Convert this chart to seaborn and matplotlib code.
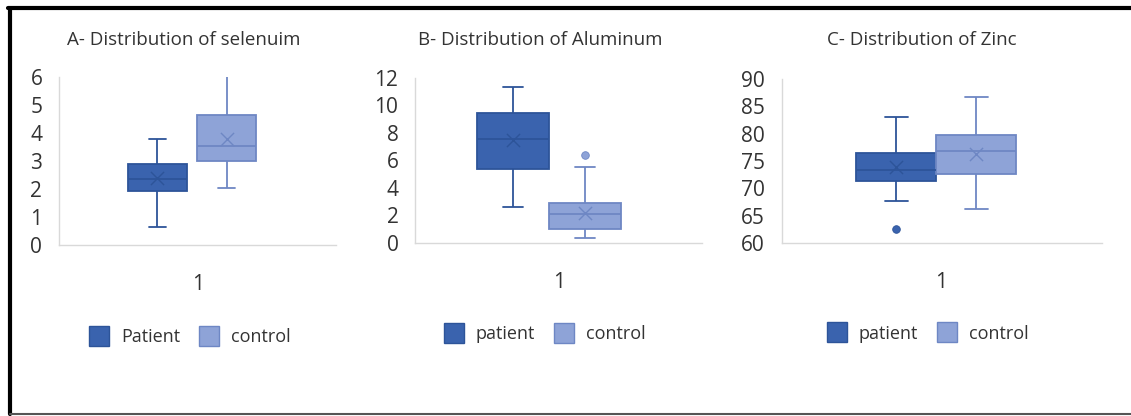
import numpy as np
import pandas as pd
import seaborn as sns
import matplotlib.pyplot as plt
from matplotlib.lines import Line2D

sns.set_style("white")
plt.rcParams['font.family'] = ['Open Sans', 'DejaVu Sans']

# five-number summaries: low whisker, Q1, median, Q3, high whisker
sel_patient = [0.66, 1.93, 2.36, 2.89, 3.80]
sel_control = [2.03, 3.00, 3.54, 4.64, 6.10]
alu_patient = [2.62, 5.38, 7.55, 9.45, 11.30]
alu_control = [0.35, 1.00, 2.10, 2.90, 5.50]
zn_patient = [67.7, 71.3, 73.3, 76.4, 83.0]
zn_control = [66.2, 72.6, 76.8, 79.7, 86.7]

# means (the X marks) and outliers
sel_means = [2.40, 3.80]
alu_means = [7.50, 2.20]
zn_means = [73.9, 76.2]
alu_outliers = [[], [6.4]]
zn_outliers = [[62.6], []]

titles = ["A- Distribution of selenuim", "B- Distribution of Aluminum", "C- Distribution of Zinc"]
groups = [["Patient", "control"], ["patient", "control"], ["patient", "control"]]
yticks = [np.arange(0, 7, 1), np.arange(0, 13, 2), np.arange(60, 91, 5)]

fills = ["#3A63AE", "#8EA3D7"]
edges = ["#2D5499", "#6E87C4"]
text_col = "#333333"

panels = [
    (sel_patient, sel_control, sel_means, [[], []], 0.15),
    (alu_patient, alu_control, alu_means, alu_outliers, 0.0),
    (zn_patient, zn_control, zn_means, zn_outliers, 0.0),
]

fig = plt.figure(figsize=(11.31, 4.16), dpi=100)
axes_pos = [
    [0.0522, 0.411, 0.245, 0.404],
    [0.367, 0.416, 0.254, 0.397],
    [0.691, 0.416, 0.283, 0.394],
]
# boxes and legends sit a little left of centre in the original
box_shift = [0.02, 0.033, 0.016]
legend_x = [0.47, 0.45, 0.455]
title_x = [184 / 1131, 540 / 1131, 922 / 1131]

for i, (pat, con, means, outl, gap) in enumerate(panels):
    ax = fig.add_axes(axes_pos[i])
    names = groups[i]
    df = pd.DataFrame({
        "x": ["1"] * 10,
        "group": [names[0]] * 5 + [names[1]] * 5,
        "value": pat + con,
    })
    sns.boxplot(data=df, x="x", y="value", hue="group", hue_order=names,
                palette=dict(zip(names, fills)), saturation=1,
                linewidth=1.3, width=0.5, gap=gap, whis=(0, 100),
                fliersize=0, legend=False, ax=ax)

    # recolour each box's outline and lines, find box centres
    centres, bw = [], 0
    for k, box in enumerate(ax.patches[:2]):
        box.set_edgecolor(edges[k])
        v = box.get_path().vertices
        centres.append((v[:, 0].min() + v[:, 0].max()) / 2)
        bw = v[:, 0].max() - v[:, 0].min()
    for ln in ax.lines:
        x, y = ln.get_data()
        if len(x) == 0:
            continue
        k = 0 if np.mean(x) < 0 else 1
        ln.set_color(edges[k])
        if len(x) == 2 and y[0] == y[1] and (x[1] - x[0]) < 0.95 * bw:
            half = 0.14 * bw
            ln.set_xdata([centres[k] - half, centres[k] + half])

    for k in range(2):
        ax.scatter([centres[k]], [means[k]], marker="x", s=90, color=edges[k],
                   linewidths=1.0, zorder=5)
        if outl[k]:
            ax.scatter([centres[k]] * len(outl[k]), outl[k], marker="o", s=30,
                       color=fills[k], edgecolor=edges[k], linewidths=0.6, zorder=5)

    sh = box_shift[i]
    ax.set_xlim(-0.5 + sh, 0.5 + sh)
    ax.set_xticks([sh], ["1"])
    ax.set_ylim(yticks[i][0], yticks[i][-1])
    ax.set_yticks(yticks[i])
    ax.set_xlabel("")
    ax.set_ylabel("")
    ax.tick_params(axis="y", length=0, pad=12, labelsize=15, labelcolor=text_col)
    ax.tick_params(axis="x", length=0, pad=21, labelsize=15, labelcolor=text_col)
    for s in ["top", "right"]:
        ax.spines[s].set_visible(False)
    for s in ["left", "bottom"]:
        ax.spines[s].set_color("#D9D9D9")
        ax.spines[s].set_linewidth(1.0)

    fig.text(title_x[i], 1 - 40 / 416, titles[i], ha="center", va="center",
             fontsize=13.5, color=text_col)

    handles = [Line2D([], [], marker="s", linestyle="none", markersize=15,
                      markerfacecolor=fills[k], markeredgecolor=edges[k],
                      markeredgewidth=1.0) for k in range(2)]
    ax.legend(handles, names, loc="upper center", bbox_to_anchor=(legend_x[i], -0.40),
              ncol=2, frameon=False, fontsize=13, handlelength=1.2,
              handletextpad=0.6, columnspacing=1.0, labelcolor=text_col)

# outer frame lines of the original screenshot
fig.add_artist(Line2D([8 / 1131, 1], [1 - 8 / 416] * 2, color="black", lw=3))
fig.add_artist(Line2D([10 / 1131] * 2, [1 - 8 / 416, 2 / 416], color="black", lw=3))
fig.add_artist(Line2D([10 / 1131, 1], [2 / 416] * 2, color="#555555", lw=1.5))

fig.savefig("out.png", dpi=100)
